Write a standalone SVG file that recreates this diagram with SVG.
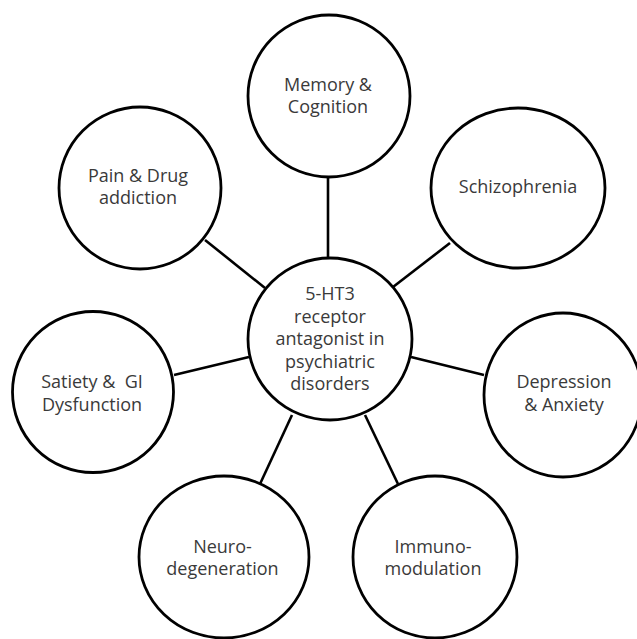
<svg xmlns="http://www.w3.org/2000/svg" width="637" height="639" viewBox="0 0 637 639">
<style>
.node{fill:#fff;stroke:#000;stroke-width:2.8}
.edge{stroke:#000;stroke-width:2.6;fill:none}
text{font-family:"Open Sans","Liberation Sans",sans-serif;font-size:18px;fill:#3a3a3a;text-anchor:middle;white-space:pre}
</style>
<rect width="637" height="639" fill="#fff"/>
<g id="connectors">
<line class="edge" x1="328" y1="177" x2="328" y2="258"/>
<line class="edge" x1="205" y1="240" x2="265" y2="288"/>
<line class="edge" x1="450" y1="243" x2="393" y2="287"/>
<line class="edge" x1="174" y1="375" x2="249" y2="357"/>
<line class="edge" x1="411" y1="357" x2="484" y2="375"/>
<line class="edge" x1="292" y1="415" x2="260" y2="484"/>
<line class="edge" x1="365" y1="415" x2="398" y2="484"/>
</g>
<g id="center">
<ellipse class="node" cx="330" cy="339" rx="82" ry="81"/>
<text x="330" y="300">5-HT3</text>
<text x="330" y="322.5">receptor</text>
<text x="330" y="345">antagonist in</text>
<text x="330" y="367.5">psychiatric</text>
<text x="330" y="390">disorders</text>
</g>
<g id="memory">
<ellipse class="node" cx="329" cy="96" rx="81" ry="81"/>
<text x="328" y="91">Memory &amp;</text>
<text x="328" y="113">Cognition</text>
</g>
<g id="pain">
<ellipse class="node" cx="140" cy="188" rx="81" ry="81"/>
<text x="138" y="182">Pain &amp; Drug</text>
<text x="138" y="204">addiction</text>
</g>
<g id="schizophrenia">
<ellipse class="node" cx="518" cy="188" rx="87" ry="80"/>
<text x="518" y="193">Schizophrenia</text>
</g>
<g id="satiety">
<ellipse class="node" cx="93" cy="392" rx="80.5" ry="80.5"/>
<text x="92" y="388">Satiety &amp;  GI</text>
<text x="92" y="411">Dysfunction</text>
</g>
<g id="depression">
<ellipse class="node" cx="563" cy="395" rx="79" ry="82"/>
<text x="564" y="388">Depression</text>
<text x="564" y="411">&amp; Anxiety</text>
</g>
<g id="neuro">
<ellipse class="node" cx="224" cy="557" rx="85" ry="81"/>
<text x="222.5" y="553">Neuro-</text>
<text x="222.5" y="575">degeneration</text>
</g>
<g id="immuno">
<ellipse class="node" cx="435" cy="557" rx="82" ry="81"/>
<text x="433" y="553">Immuno-</text>
<text x="433" y="575">modulation</text>
</g>
</svg>
